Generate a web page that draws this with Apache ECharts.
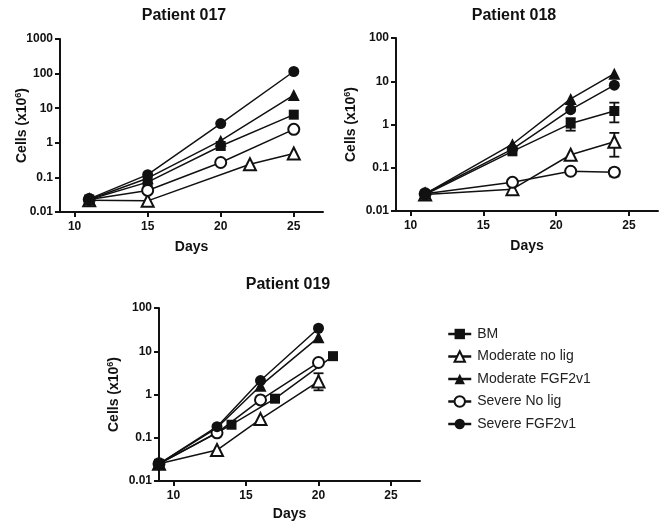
<!DOCTYPE html>
<html><head><meta charset="utf-8">
<script src="https://cdn.jsdelivr.net/npm/echarts@6/dist/echarts.min.js"></script>
<style>html,body{margin:0;padding:0;background:#fff}#c{width:666px;height:529px}</style>
</head><body><div id="c"></div>
<script>
// ---- data ----
const seriesNames = ['BM', 'Moderate no lig', 'Moderate FGF2v1', 'Severe No lig', 'Severe FGF2v1'];
const panelTitles = ['Patient 017', 'Patient 018', 'Patient 019'];
const xTickLabels = [10, 15, 20, 25];
const yTicks017 = [0.01, 0.1, 1, 10, 100, 1000];
const yTicks018 = [0.01, 0.1, 1, 10, 100];
const yTicks019 = [0.01, 0.1, 1, 10, 100];

// Patient 017  [day, cells x10^6]
const p017_BM  = [[11, 0.023], [15, 0.073], [20, 0.81], [25, 6.5]];
const p017_MNL = [[11, 0.022], [15, 0.021], [22, 0.24], [25, 0.49]];
const p017_MF  = [[11, 0.023], [15, 0.095], [20, 1.15], [25, 24]];
const p017_SNL = [[11, 0.023], [15, 0.042], [20, 0.27], [25, 2.45]];
const p017_SF  = [[11, 0.024], [15, 0.12], [20, 3.6], [25, 115]];

// Patient 018
const p018_BM  = [[11, 0.024], [17, 0.24], [21, 1.05], [24, 2.05]];
const p018_MNL = [[11, 0.024], [17, 0.032], [21, 0.2], [24, 0.4]];
const p018_MF  = [[11, 0.025], [17, 0.35], [21, 3.9], [24, 15]];
const p018_SNL = [[11, 0.025], [17, 0.046], [21, 0.083], [24, 0.079]];
const p018_SF  = [[11, 0.025], [17, 0.27], [21, 2.2], [24, 8.1]];
// error bars [day, low, high]
const p018_err = [[21, 0.72, 1.4], [24, 1.12, 3.2], [24, 0.18, 0.64], [24, 0.063, 0.095]];

// Patient 019
const p019_BM  = [[9, 0.025], [14, 0.2], [17, 0.8], [21, 7.7]];
const p019_MNL = [[9, 0.025], [13, 0.052], [16, 0.27], [20, 2.0]];
const p019_MF  = [[9, 0.025], [13, 0.17], [16, 1.6], [20, 21]];
const p019_SNL = [[9, 0.025], [13, 0.13], [16, 0.75], [20, 5.5]];
const p019_SF  = [[9, 0.025], [13, 0.18], [16, 2.1], [20, 34]];
const p019_err = [[20, 1.25, 3.1]];

// ---- styling ----
const FONT = 'Liberation Sans, Arial, sans-serif';
const INK = '#111';
const markers = [
  {symbol: 'rect', size: 10, fill: INK},
  {symbol: 'triangle', size: 12, fill: '#fff'},
  {symbol: 'triangle', size: 12, fill: INK},
  {symbol: 'circle', size: 11, fill: '#fff'},
  {symbol: 'circle', size: 11, fill: INK}
];
const panels = [
  {data: [p017_BM, p017_MNL, p017_MF, p017_SNL, p017_SF], err: [], yMax: 1000, yTicks: yTicks017,
   grid: {left: 60, top: 39, width: 263, height: 173}, nameGap: 30, xNameGap: 28, title: [179, 3]},
  {data: [p018_BM, p018_MNL, p018_MF, p018_SNL, p018_SF], err: p018_err, yMax: 100, yTicks: yTicks018,
   grid: {left: 396, top: 38, width: 262, height: 173}, nameGap: 37, xNameGap: 28, title: [509, 3]},
  {data: [p019_BM, p019_MNL, p019_MF, p019_SNL, p019_SF], err: p019_err, yMax: 100, yTicks: yTicks019,
   grid: {left: 159, top: 308, width: 261, height: 173}, nameGap: 37, xNameGap: 26, title: [283, 272]}
];

const axisLine = {show: true, lineStyle: {color: INK, width: 2}};
const axisTick = {show: true, length: 5, lineStyle: {color: INK, width: 2}};
const labelStyle = {color: INK, fontFamily: FONT, fontWeight: 'bold', fontSize: 12};

const grids = [], xAxes = [], yAxes = [], series = [], titles = [];
panels.forEach((p, i) => {
  grids.push(Object.assign({containLabel: false}, p.grid));
  titles.push({text: panelTitles[i], left: p.title[0], top: p.title[1], textAlign: 'center',
    textStyle: {fontFamily: FONT, fontWeight: 'bold', fontSize: 16, color: INK}});
  xAxes.push({type: 'value', gridIndex: i, min: 9, max: 27, name: 'Days', nameLocation: 'middle', nameGap: p.xNameGap,
    nameMoveOverlap: false,
    nameTextStyle: {fontFamily: FONT, fontWeight: 'bold', fontSize: 14, color: INK},
    axisLine, axisTick: Object.assign({customValues: xTickLabels}, axisTick),
    axisLabel: Object.assign({customValues: xTickLabels, margin: 9}, labelStyle),
    splitLine: {show: false}});
  yAxes.push({type: 'log', logBase: 10, gridIndex: i, min: 0.01, max: p.yMax,
    name: '{a|Cells (x10}{s|6}{a|)}', nameLocation: 'middle', nameGap: p.nameGap, nameMoveOverlap: false,
    nameTextStyle: {rich: {
      a: {fontFamily: FONT, fontWeight: 'bold', fontSize: 14, color: INK, lineHeight: 16},
      s: {fontFamily: FONT, fontWeight: 'bold', fontSize: 9, color: INK, lineHeight: 16, verticalAlign: 'top', padding: [0, 0, 6, 0]}
    }},
    axisLine, axisTick: Object.assign({customValues: p.yTicks}, axisTick),
    axisLabel: Object.assign({customValues: p.yTicks, margin: 7, formatter: v => String(+v.toPrecision(6))}, labelStyle),
    splitLine: {show: false}});
  if (p.err.length) {
    series.push({type: 'custom', xAxisIndex: i, yAxisIndex: i, z: 1, silent: true,
      data: p.err,
      renderItem: (params, api) => {
        const x = api.value(0);
        const lo = api.coord([x, api.value(1)]);
        const hi = api.coord([x, api.value(2)]);
        const w = 5;
        const ls = {stroke: INK, lineWidth: 1.8};
        return {type: 'group', children: [
          {type: 'line', shape: {x1: lo[0], y1: lo[1], x2: hi[0], y2: hi[1]}, style: ls},
          {type: 'line', shape: {x1: lo[0] - w, y1: lo[1], x2: lo[0] + w, y2: lo[1]}, style: ls},
          {type: 'line', shape: {x1: hi[0] - w, y1: hi[1], x2: hi[0] + w, y2: hi[1]}, style: ls}
        ]};
      }});
  }
  p.data.forEach((d, k) => {
    const m = markers[k];
    series.push({type: 'line', name: seriesNames[k], xAxisIndex: i, yAxisIndex: i, data: d,
      symbol: m.symbol, symbolSize: m.size, showAllSymbol: true, z: 2 + k,
      lineStyle: {color: INK, width: 1.5},
      itemStyle: {color: m.fill, borderColor: INK, borderWidth: m.fill === '#fff' ? 2 : 0},
      emphasis: {disabled: true}, animation: false});
  });
});

const chart = echarts.init(document.getElementById('c'), null, {renderer: 'canvas'});
chart.setOption({
  backgroundColor: '#fff',
  animation: false,
  title: titles,
  grid: grids,
  xAxis: xAxes,
  yAxis: yAxes,
  legend: {data: seriesNames, orient: 'vertical', left: 442, top: 322, itemWidth: 23, itemHeight: 13, itemGap: 8.5,
    lineStyle: {width: 2.5, color: INK},
    selectedMode: false, textStyle: {fontFamily: FONT, fontSize: 14, color: '#222', padding: [0, 0, 0, 1]}},
  series
});
</script></body></html>
